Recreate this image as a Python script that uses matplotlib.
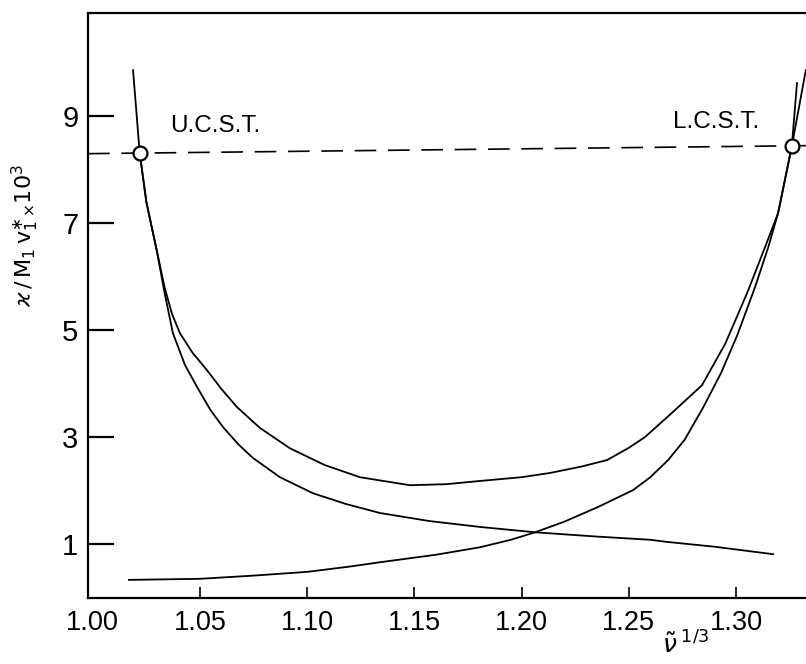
import matplotlib
matplotlib.use("Agg")
import matplotlib.pyplot as plt

plt.rcParams['font.family'] = ['Liberation Sans', 'DejaVu Sans']
plt.rcParams['mathtext.fontset'] = 'dejavusans'

# Descending curve (through U.C.S.T.)
d_x = [1.0188, 1.0219, 1.0250, 1.0271, 1.0298, 1.0335, 1.0374, 1.0430, 1.0486,
       1.0550, 1.0607, 1.0680, 1.0747, 1.0873, 1.1027, 1.1180, 1.1340, 1.1570,
       1.1806, 1.2063, 1.2350, 1.2600, 1.2678, 1.2900, 1.3173]
d_y = [9.86, 8.31, 7.40, 7.00, 6.50, 5.70, 4.94, 4.35, 3.94,
       3.50, 3.19, 2.86, 2.61, 2.25, 1.95, 1.75, 1.58, 1.43,
       1.32, 1.22, 1.14, 1.08, 1.04, 0.95, 0.81]

# Rising curve (through L.C.S.T.)
r_x = [1.0169, 1.0500, 1.0750, 1.1000, 1.1200, 1.1340, 1.1600, 1.1806, 1.1950,
       1.2063, 1.2200, 1.2360, 1.2520, 1.2600, 1.2683, 1.2760, 1.2846, 1.2930,
       1.3005, 1.3088, 1.3150, 1.3196, 1.3260, 1.3325]
r_y = [0.33, 0.35, 0.41, 0.48, 0.58, 0.66, 0.80, 0.94, 1.08,
       1.22, 1.42, 1.70, 2.01, 2.25, 2.57, 2.95, 3.55, 4.20,
       4.90, 5.80, 6.55, 7.19, 8.44, 9.86]

# Upper U-shaped curve
u_x = [1.0219, 1.0250, 1.0298, 1.0335, 1.0370, 1.0407, 1.0465, 1.0533, 1.0600,
       1.0673, 1.0780, 1.0920, 1.1080, 1.1246, 1.1479, 1.1650, 1.1806, 1.2000,
       1.2133, 1.2280, 1.2398, 1.2500, 1.2575, 1.2700, 1.2841, 1.2950, 1.3051,
       1.3130, 1.3196, 1.3260, 1.3284]
u_y = [8.31, 7.40, 6.50, 5.80, 5.30, 4.94, 4.58, 4.25, 3.90,
       3.56, 3.17, 2.79, 2.48, 2.25, 2.10, 2.12, 2.18, 2.25,
       2.33, 2.45, 2.57, 2.80, 3.00, 3.45, 3.97, 4.75, 5.69,
       6.50, 7.19, 8.44, 9.62]

# Critical points
crit_x = [1.0219, 1.3260]
crit_y = [8.31, 8.44]
crit_labels = ["U.C.S.T.", "L.C.S.T."]

# Dashed line ends
dash_x = [0.9978, 1.3330]
dash_y = [8.30, 8.45]

x_ticks = [1.00, 1.05, 1.10, 1.15, 1.20, 1.25, 1.30]
x_ticklabels = ["1.00", "1.05", "1.10", "1.15", "1.20", "1.25", "1.30"]
y_ticks = [1, 3, 5, 7, 9]

fig = plt.figure(figsize=(8.06, 6.64), dpi=100)
ax = fig.add_axes([0.1092, 0.1001, 0.8908, 0.8803])

lw = 1.3
ax.plot(d_x, d_y, color='black', lw=lw)
ax.plot(r_x, r_y, color='black', lw=lw)
ax.plot(u_x, u_y, color='black', lw=lw)
ax.plot(dash_x, dash_y, color='black', lw=1.2, dashes=(13, 7))
ax.plot(crit_x, crit_y, 'o', ms=10, mfc='white', mec='black', mew=1.6, zorder=5)

ax.text(1.036, 8.81, crit_labels[0], fontsize=17.5, va='center', ha='left')
ax.text(1.311, 8.89, crit_labels[1], fontsize=17.5, va='center', ha='right')

ax.set_xlim(0.9978, 1.3326)
ax.set_ylim(0, 10.93)
ax.set_xticks(x_ticks)
ax.set_xticklabels(x_ticklabels)
ax.set_yticks(y_ticks)

ax.tick_params(axis='y', direction='in', length=19, width=1.6, labelsize=21, pad=7)
ax.tick_params(axis='x', direction='in', length=8, width=1.2, labelsize=19.5, pad=9)
ax.xaxis.get_major_ticks()[0].tick1line.set_visible(False)

for s in ['left', 'top', 'bottom']:
    ax.spines[s].set_linewidth(1.6)
ax.spines['right'].set_visible(False)

ax.set_ylabel(r'$\varkappa\,/\,\mathrm{M_1\,v_1^{\ast}}{}_{\times}10^{3}$', fontsize=16)
ax.yaxis.set_label_coords(-0.066, 0.62)

fig.text(686/806, 1 - 645/664, r'$\tilde{\nu}^{\;1/3}$', fontsize=18,
         ha='center', va='center')

fig.savefig('out.png', dpi=100)
